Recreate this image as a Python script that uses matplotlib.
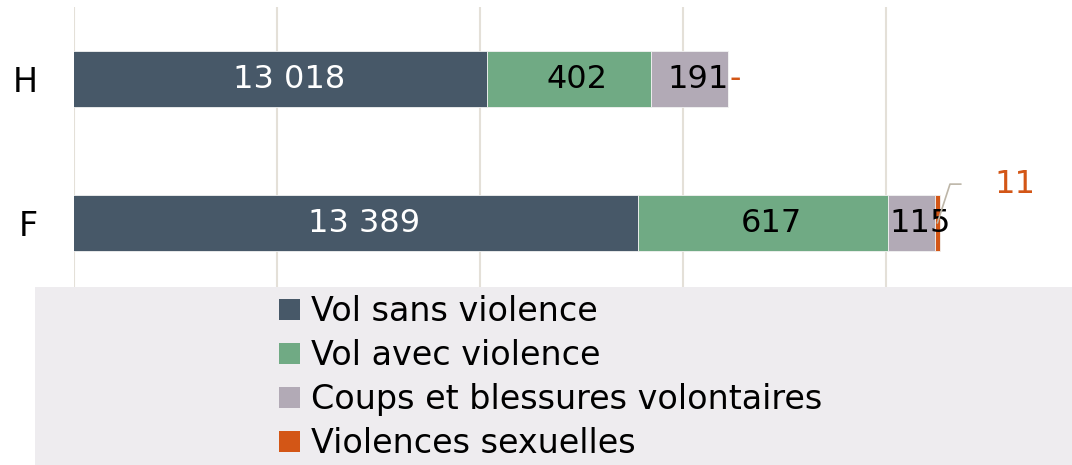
import matplotlib.pyplot as plt
from matplotlib.patches import Rectangle, Patch
import numpy as np

# data
categories = ["F", "H"]
series = ["Vol sans violence", "Vol avec violence",
          "Coups et blessures volontaires", "Violences sexuelles"]
vol_sans = [13389, 13018]
vol_avec = [617, 402]
coups = [115, 191]
sexuelles = [11, 0]
labels_sans = ["13 389", "13 018"]

colors = ["#475868", "#70AA84", "#B2AAB6", "#D35616"]
GRID = "#E4E0D8"

plt.rcParams["font.family"] = ["DejaVu Sans"]

fig = plt.figure(figsize=(10.72, 4.65), dpi=100)
W, H = 1072, 465
ax = fig.add_axes([74 / W, 1 - 295 / H, (W - 74) / W, 288 / H])

y = np.arange(len(categories))
bh = 0.39
vals = [vol_sans, vol_avec, coups, sexuelles]
lefts = np.zeros(len(categories))
for i, v in enumerate(vals):
    ax.barh(y, v, left=lefts, height=bh, color=colors[i], label=series[i],
            edgecolor="#F2F2F2", linewidth=0.6, zorder=3)
    lefts = lefts + np.array(v)

ax.set_xlim(12000, 12000 + (W - 74) / 0.406)
ax.set_ylim(-0.5, 1.5)
ax.set_xticks([12000, 12500, 13000, 13500, 14000])
ax.xaxis.grid(True, color=GRID, linewidth=1.5, zorder=0)
ax.tick_params(axis="x", length=0, labelbottom=False)
ax.tick_params(axis="y", length=0, labelsize=24, pad=26)
ax.set_yticks(y)
ax.set_yticklabels(categories)
for s in ax.spines.values():
    s.set_visible(False)

# value labels
fs = 23
for j in range(len(categories)):
    ax.annotate(labels_sans[j], xy=((12000 + vol_sans[j]) / 2, y[j]),
                xytext=(6, 0), textcoords="offset points",
                ha="center", va="center", color="white", fontsize=fs, zorder=5)
    x0 = vol_sans[j]
    for v in (vol_avec[j], coups[j]):
        ax.annotate(f"{v}", xy=(x0 + v / 2, y[j]), xytext=(6, 0),
                    textcoords="offset points", ha="center", va="center",
                    color="black", fontsize=fs, zorder=5)
        x0 += v

# H: zero value shown as dash
h_end = vol_sans[1] + vol_avec[1] + coups[1]
ax.annotate("-", xy=(h_end, y[1]), xytext=(1, 0), textcoords="offset points",
            ha="left", va="center", color=colors[3], fontsize=fs, zorder=5)

# F: 11 with leader line
f_end = vol_sans[0] + vol_avec[0] + coups[0] + sexuelles[0] / 2
ax.annotate(f"{sexuelles[0]}", xy=(f_end, y[0]), xytext=(41, 28),
            textcoords="offset points", ha="left", va="center",
            color=colors[3], fontsize=fs, zorder=5,
            arrowprops=dict(arrowstyle="-", color="#BDB6A8", lw=1.2,
                            shrinkA=22, shrinkB=0, relpos=(0, 0.5),
                            connectionstyle="angle,angleA=0,angleB=72,rad=0"))

# legend background
fig.patches.append(Rectangle((35 / W, 0), (W - 35) / W, 178 / H,
                             transform=fig.transFigure, facecolor="#EEECEF",
                             edgecolor="none", zorder=10))
handles = [Patch(facecolor=c, edgecolor="none") for c in colors]
leg = fig.legend(handles, series, loc="upper left",
                 bbox_to_anchor=(256 / W, 1 - 272 / H), frameon=False,
                 fontsize=24, handlelength=0.62, handleheight=0.62,
                 handletextpad=0.33, labelspacing=0.33, borderpad=0.2)
leg.set_zorder(11)

fig.savefig("out.png", dpi=100)
